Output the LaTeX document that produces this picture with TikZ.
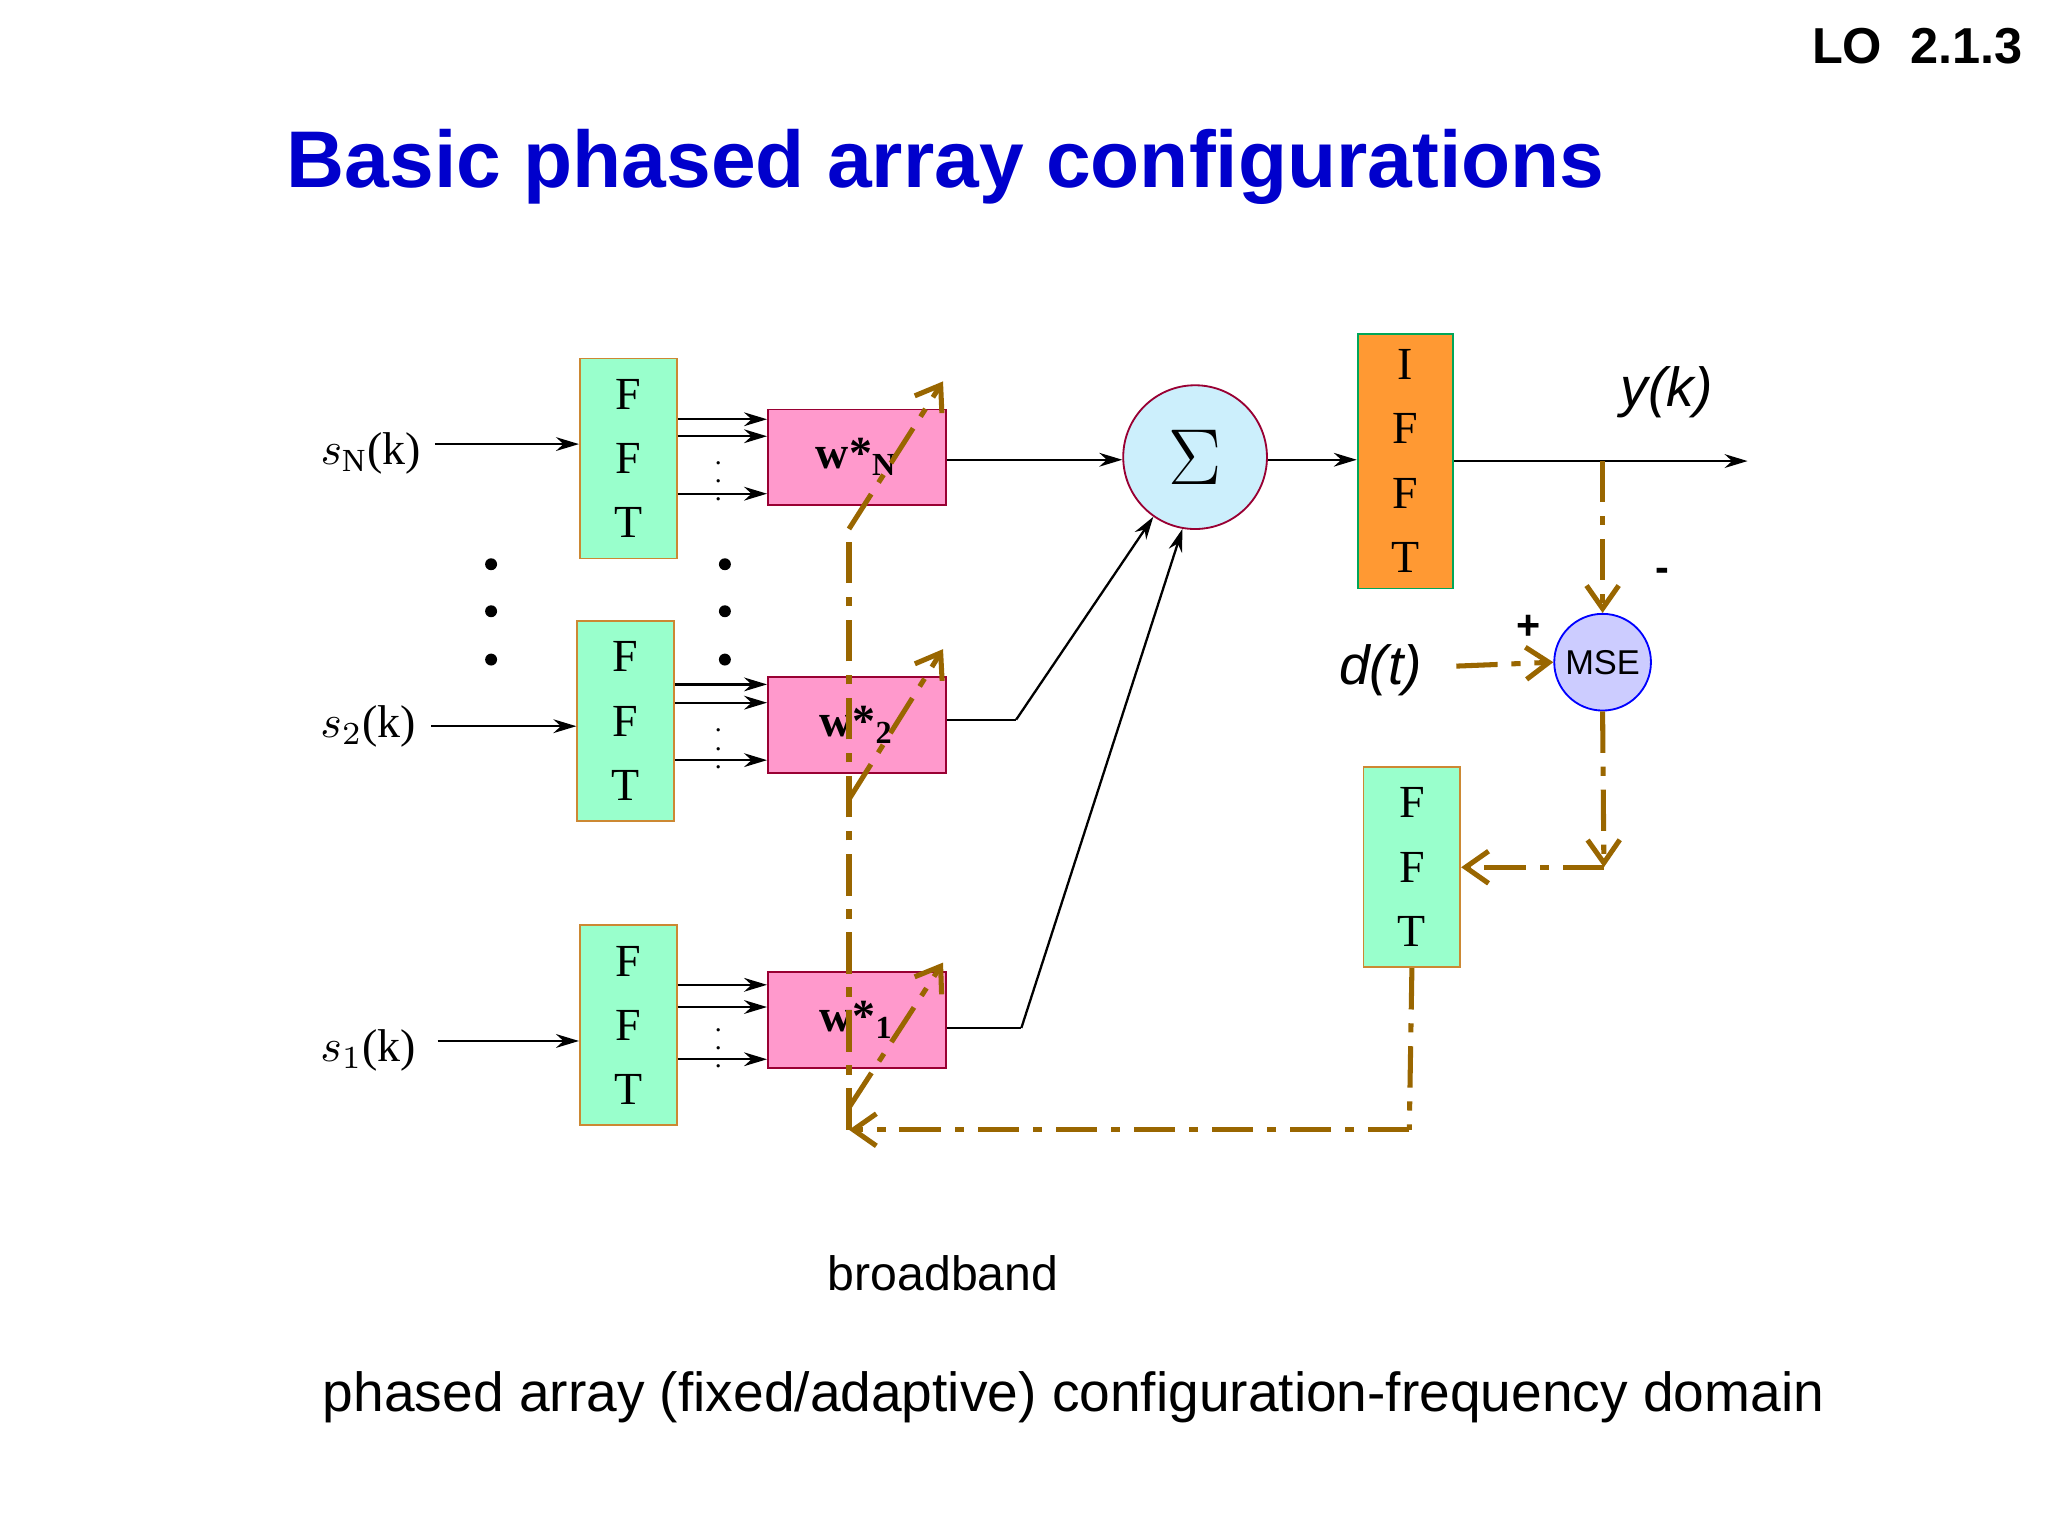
\documentclass[tikz,border=0pt]{standalone}
\usepackage{fontspec}
\setmainfont{Liberation Serif}
\newfontfamily\sans{Liberation Sans}
\usetikzlibrary{arrows.meta}
\definecolor{fftg}{HTML}{99FFCC}
\definecolor{fftb}{HTML}{CC8833}
\definecolor{wpink}{HTML}{FF99CC}
\definecolor{wbord}{HTML}{990033}
\definecolor{brn}{HTML}{996600}
\definecolor{titleblue}{HTML}{0000CC}
\begin{document}
\begin{tikzpicture}[x=0.01cm,y=-0.01cm,
  fft/.style={draw=fftb,fill=fftg,minimum width=0.74cm,minimum height=1.53cm,align=center,font=\fontsize{10}{11}\selectfont,inner sep=0pt},
  wb/.style={draw=wbord,fill=wpink,minimum width=1.36cm,minimum height=0.73cm,inner sep=0pt,font=\bfseries\fontsize{10}{11}\selectfont},
  sig/.style={-{Stealth[length=5pt,width=3pt]},black,line width=0.5pt},
  fb/.style={brn,line width=1.1pt,dash pattern=on 9pt off 3pt on 2pt off 3pt},
  fba/.style={fb,-{Straight Barb[length=5pt,width=7pt]}},
  lab/.style={font=\fontsize{10}{12}\selectfont}]
\useasboundingbox (0,0) rectangle (1568,1176);
\node[font=\sans\bfseries\fontsize{11}{13}\selectfont] (lo) at (1468,35) {LO\ \ 2.1.3};
\node[font=\sans\bfseries\fontsize{17.5}{20}\selectfont,text=titleblue] (title) at (724,128) {Basic phased array configurations};
% FFT boxes
\node[fft] (fN) at (481,351) {F\\[3pt]F\\[3pt]T};
\node[fft] (f2) at (479,552) {F\\[3pt]F\\[3pt]T};
\node[fft] (f1) at (481,785) {F\\[3pt]F\\[3pt]T};
% W boxes
\node[wb] (wN) at (656,350) {w*$_{\mathbf N}$};
\node[wb] (w2) at (656,555) {w*$_{\mathbf 2}$};
\node[wb] (w1) at (656,781) {w*$_{\mathbf 1}$};
% sigma, ifft, mse
\node[circle,draw=wbord,fill=cyan!20,minimum size=1.1cm,inner sep=0pt,font=\fontsize{16}{18}\selectfont] (sum) at (915,350) {$\Sigma$};
\node[draw=teal!70!green,fill={rgb,255:red,255;green,153;blue,51},minimum width=0.73cm,minimum height=1.95cm,align=center,inner sep=0pt,font=\fontsize{10}{11}\selectfont] (ifft) at (1076,353) {I\\[3pt]F\\[3pt]F\\[3pt]T};
\node[circle,draw=blue,fill={rgb,255:red,204;green,204;blue,255},minimum size=0.74cm,inner sep=0pt,font=\sans\fontsize{7.5}{9}\selectfont] (mse) at (1227,507) {MSE};
\node[fft] (fb) at (1081,664) {F\\[3pt]F\\[3pt]T};
% labels
\node[lab] (sN) at (284,347) {$s_{\mathrm N}$(k)};
\node[lab] (s2) at (282,556) {$s_2$(k)};
\node[lab] (s1) at (282,804) {$s_1$(k)};
\node[font=\sans\itshape\fontsize{12}{14}\selectfont] (yk) at (1276,300) {y(k)};
\node[font=\sans\itshape\fontsize{12}{14}\selectfont] (dt) at (1057,513) {d(t)};
\node[font=\sans\bfseries\fontsize{9}{10}\selectfont] (plus) at (1170,480) {+};
\node[font=\sans\bfseries\fontsize{9}{10}\selectfont] (minus) at (1273,440) {-};
\node[font=\sans\fontsize{10.5}{12}\selectfont] (bb) at (722,975) {broadband};
\node[font=\sans\fontsize{12}{14}\selectfont] (cap) at (822,1070) {phased array (fixed/adaptive) configuration-frequency domain};
% inputs
\draw[sig] (333,340) -- (fN.west|-0,340);
\draw[sig] (330,556) -- (f2.west|-0,556);
\draw[sig] (335,797) -- (f1.west|-0,797);
% fft to w
\foreach \f/\w/\a/\b/\c/\d in {fN/wN/321/334/378/358, f2/w2/524/538/582/563, f1/w1/754/771/811/792}{
  \draw[sig] (\f.east|-0,\a) -- (\w.west|-0,\a);
  \draw[sig] (\f.east|-0,\b) -- (\w.west|-0,\b);
  \draw[sig] (\f.east|-0,\c) -- (\w.west|-0,\c);
  \node[font=\fontsize{6}{6}\selectfont,inner sep=0pt] at (550,\d) {$\vdots$};
}
\foreach \x in {376,555}{\foreach \y in {432,468,505}{\fill (\x,\y) circle (1.3pt);}}
% w to sum
\draw[sig] (wN.east|-0,352) -- (sum.west|-0,352);
\coordinate (c2) at (778,551);
\coordinate (c1) at (782,787);
\draw[line width=0.5pt] (w2.east|-0,551) -- (c2);
\draw[sig] (c2) -- (sum.-125);
\draw[line width=0.5pt] (w1.east|-0,787) -- (c1);
\draw[sig] (c1) -- (sum.-100);
\draw[sig] (sum.east|-0,352) -- (ifft.west|-0,352);
\coordinate (out) at (1338,353);
\draw[sig] (ifft.east|-0,353) -- (out);
% feedback
\coordinate (tap) at (1227,353);
\coordinate (m1) at (1228,664);
\coordinate (m2) at (1079,865);
\coordinate (m3) at (650,865);
\coordinate (dN) at (650,405);
\coordinate (d2) at (650,612);
\coordinate (d1) at (650,848);
\coordinate (aN) at (722,292);
\coordinate (a2) at (722,497);
\coordinate (a1) at (722,737);
\draw[fba] (tap) -- (mse.north);
\draw[fba] (1115,510) -- (mse.west);
\draw[fba] (mse.south) -- (m1);
\draw[fba] (m1) -- (fb.east|-m1);
\draw[fb] (fb.south) -- (m2);
\draw[fba] (m2) -- (m3);
\draw[fb] (m3) -- (dN);
\draw[fba] (dN) -- (aN);
\draw[fba] (d2) -- (a2);
\draw[fba] (d1) -- (a1);
\end{tikzpicture}
\end{document}
